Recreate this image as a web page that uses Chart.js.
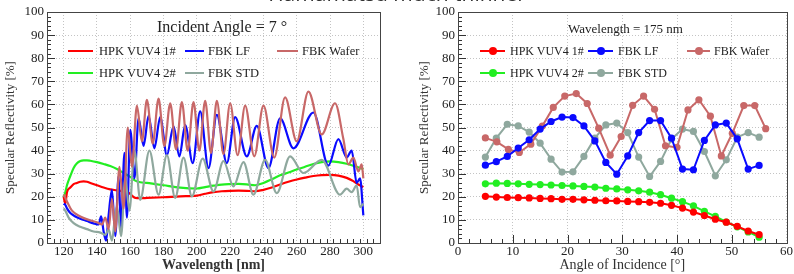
<!DOCTYPE html>
<html>
<head>
<meta charset="utf-8">
<script src="https://cdn.jsdelivr.net/npm/chart.js@4.4.1/dist/chart.umd.min.js"></script>
<style>
  body { margin: 0; width: 794px; height: 274px; background: #fff; overflow: hidden; position: relative; font-family: "Liberation Serif", serif; color: #222; }
  .panel { position: absolute; top: 0; height: 274px; }
  #leftPanel { left: 0; width: 395px; }
  #rightPanel { left: 400px; width: 394px; }
  .heading { position: absolute; top: -21px; left: 0; width: 794px; text-align: center; font-family: "Open Sans", sans-serif; font-size: 21px; color: #333; z-index: 5; white-space: nowrap; }
  .note { position: absolute; white-space: nowrap; }
  .leg { position: absolute; white-space: nowrap; line-height: 14px; }
  .leg i { position: absolute; top: 6px; height: 2px; }
  .leg b { position: absolute; top: 3px; width: 8px; height: 8px; border-radius: 50%; }
</style>
</head>
<body>
<div class="heading">Hamamatsu much thinner</div>
<div class="panel" id="leftPanel"><canvas id="waveChart" width="395" height="274"></canvas></div>
<div class="panel" id="rightPanel"><canvas id="angleChart" width="394" height="274"></canvas></div>
<div id="legends"></div>

<script>
// ---- left panel: reflectivity vs wavelength (incident angle 7 deg) ----
const wlHpk1 = [120,121,122,124,126,128,130,132,134,136,140,144,148,152,156,159,161,163,166,170,180,190,200,205,210,215,220,225,230,235,240,245,250,255,260,265,270,275,280,285,290,294,297,300];
const refHpk1 = [20,17,22,24,25.5,26,26.5,26.7,26.5,26,25,24,23.2,22.8,22.3,21.8,20.5,19.5,19.4,19.5,19.8,20.2,20.5,21.3,22,22.4,22.6,22.7,22.6,22.4,23,24,25.3,26.5,27.5,28.3,29,29.4,29.5,29.2,28.2,26.8,25.3,24.2];

const wlHpk2 = [120,121,122,124,126,128,130,132,134,136,140,144,148,152,156,160,163,166,170,175,180,190,200,205,210,215,220,225,230,235,240,245,250,255,260,265,270,275,280,285,290,295,300];
const refHpk2 = [20,22,25,29,32.5,34.5,35.5,35.8,35.8,35.6,35,34.2,33.3,32,30.3,28.6,27,26.3,26,25.5,25,24,23.6,24.2,24.8,25.3,25.5,25.6,25.4,25,26,27.6,29.3,30.5,31.8,33,34.2,35,35.3,35,34.3,33.2,32];

const wlLf = [120,121,122,124,127,130,134,138,141,142.5,144,145.5,147,149,151,153,154.5,156.5,158,160,162.5,165,168,171,174.5,178,182,186,189.5,193,197.5,202,207,212,218,223,230,236,243,250,258,270,279,285,290,293,296,298,300];
const refLf = [17,16.5,15,13,11.5,10.5,9.5,8.5,8,11.5,5,1,12,23,3,29,6,39,11,49,28,54,42,55,41,54.5,38,50.5,37.5,51,34.6,57,32.4,55.5,34.6,54.5,37.5,50.7,32.4,54,41,56.5,33.5,45,37,40,26,28,12];

const wlStd = [120,121,123,126,130,134,138,142,145,147,149,150.5,152,154.5,157,159.5,162.5,166,171.5,177,182,187,192,197,203.5,210,216,222,228,234,241,248,256,264,275,286,290,293,296,298,300];
const refStd = [15,14,11,8.6,7,6,5,4.5,3.5,6,1,9,16,3,28,14,40,18.7,40,20.9,38,19.5,37,20.2,36.5,22.3,35.5,24.5,35,20.9,36,21.6,37.5,30.3,36,20.9,23.5,22,25,15.5,17];

const wlWafer = [120,122,125,130,135,140,143,145,147,149,151,153.5,156,158.5,161,164,167,170,173.5,177,180.5,184,187.5,191,194.5,198,201.5,205,208.5,212,216,220,224.5,229,234.5,240,246.5,253,260,267,275,283,288,291,294,297,299,300];
const refWafer = [21,18,14,11.5,10,9,8,11,6,19,5,33,15,50,33,59.5,44,62,43,62.5,42,60.5,40.5,61,40,61,40,61.5,39,61.5,38.5,60.5,38,59.5,37.5,59.5,37,63,44,65.5,47,60.5,45,34,37,31,34,28];

const wlTicks = [120,140,160,180,200,220,240,260,280,300];

// ---- right panel: reflectivity vs angle (wavelength 175 nm) ----
const angHpk = [5,7,9,11,13,15,17,19,21,23,25,27,29,31,33,35,37,39,41,43,45,47,49,51,53,55];
const angRef1 = [20.2,19.9,19.7,19.6,19.5,19.3,19.2,18.9,18.9,18.7,18.5,18.3,18.2,18.0,17.9,17.6,17.2,16.3,15.1,13.4,11.9,10.3,9.0,7.2,5.2,3.6];
const angRef2 = [25.6,25.9,25.8,25.6,25.4,25.3,25.1,24.9,24.7,24.5,24.2,23.7,23.4,23.0,22.6,22.0,20.9,19.4,17.9,16.1,13.7,11.5,9.1,7.0,4.8,2.5];

const angFbk = [5,7,9,11,13,15,17,19,21,23,25,27,29,31,33,35,37,39,41,43,45,47,49,51,53,55];
const angLf = [33.7,35.2,37.5,41.1,44.7,49.3,52.6,54.5,54.3,50.7,44.2,34.9,29.8,37.7,47.8,53.0,53.0,45.4,32.0,31.7,44.4,51.1,51.9,45.1,32.0,33.6];
const angStd = [37.2,45.4,51.4,50.7,48.0,43.2,36.3,30.7,30.8,37.5,45.4,51.1,51.9,47.8,37.2,28.8,35.3,45.0,49.3,48.3,39.6,29.1,36.0,45.8,47.8,45.8];

const angWaferX = [5,7.1,9.2,11.2,13.3,15.4,17.4,19.5,21.6,23.6,25.7,27.8,29.8,31.9,33.9,35.9,37.9,40,42,44,46.1,48.1,50.1,52.2,54.2,56.2];
const angWafer = [45.5,43.8,40.5,39.2,42.8,50.6,58.7,63.6,64.7,60.4,49.7,38.0,46.1,59.6,63.6,57.9,42.1,41.4,57.6,62.0,54.9,37.7,47.5,59.5,59.5,49.5];

const angTicks = [0,10,20,30,40,50,60];
const reflTicks = [0,10,20,30,40,50,60,70,80,90,100];

const RED = "#ff0000";
const GREEN = "#22ee22";
const BLUE = "#0a0aff";
const WAFER = "#c86868";
const STD = "#8fa89e";

function pairs(xs, ys) {
  return xs.map((x, i) => ({ x: x, y: ys[i] }));
}

// ROOT-like frame with inward major/minor ticks
const rootFrame = {
  id: "rootFrame",
  afterDraw(chart, args, opts) {
    const { ctx, chartArea: a, scales } = chart;
    ctx.save();
    ctx.strokeStyle = "#333";
    ctx.lineWidth = 1;
    ctx.beginPath();
    for (let v = scales.x.min; v <= scales.x.max + 1e-6; v += opts.xMinor) {
      const px = Math.round(scales.x.getPixelForValue(v)) + 0.5;
      const k = (v - opts.xMajorBase) / opts.xMajor;
      const len = Math.abs(k - Math.round(k)) < 1e-6 ? 8 : 4;
      ctx.moveTo(px, a.bottom);
      ctx.lineTo(px, a.bottom - len);
    }
    for (let v = 0; v <= 100; v += 2) {
      const py = Math.round(scales.y.getPixelForValue(v)) + 0.5;
      const len = v % 10 === 0 ? 8 : 4;
      ctx.moveTo(a.left, py);
      ctx.lineTo(a.left + len, py);
    }
    ctx.stroke();
    ctx.strokeStyle = "#444";
    ctx.strokeRect(Math.round(a.left) + 0.5, Math.round(a.top) + 0.5, Math.round(a.right - a.left), Math.round(a.bottom - a.top));
    ctx.restore();
  }
};

function axisOptions(xMin, xMax, xTicks, xTitle, xBold, leftWidth) {
  return {
    x: {
      type: "linear",
      min: xMin,
      max: xMax,
      afterBuildTicks: (axis) => { axis.ticks = xTicks.map(v => ({ value: v })); },
      afterFit: (axis) => { axis.height = 31; },
      ticks: { color: "#222", font: { family: "Liberation Serif", size: 13 }, padding: 1, maxRotation: 0, autoSkip: false },
      grid: { color: "#c4c4c4", drawTicks: false, lineWidth: 1 },
      border: { display: false, dash: [1, 2] },
      title: { display: true, text: xTitle, color: "#333", font: { family: "Liberation Serif", size: 14, weight: xBold ? "bold" : "normal" }, padding: { top: -3, bottom: 0 } }
    },
    y: {
      min: 0,
      max: 100,
      afterBuildTicks: (axis) => { axis.ticks = reflTicks.map(v => ({ value: v })); },
      afterFit: (axis) => { axis.width = leftWidth; },
      ticks: { color: "#222", font: { family: "Liberation Serif", size: 13 }, padding: 3 },
      grid: { color: "#c4c4c4", drawTicks: false, lineWidth: 1 },
      border: { display: false, dash: [1, 2] },
      title: { display: true, text: "Specular Reflectivity [%]", color: "#333", font: { family: "Liberation Serif", size: 13 }, padding: { top: 0, bottom: 0 } }
    }
  };
}

function waveSet(label, xs, ys, color) {
  return { label: label, data: pairs(xs, ys), borderColor: color, backgroundColor: color, borderWidth: 2.2, pointRadius: 0, cubicInterpolationMode: "monotone", fill: false };
}

function angleSet(label, xs, ys, color) {
  return { label: label, data: pairs(xs, ys), borderColor: color, backgroundColor: color, borderWidth: 2, pointRadius: 3.6, pointBorderWidth: 0, tension: 0, fill: false };
}

new Chart(document.getElementById("waveChart"), {
  type: "line",
  data: {
    datasets: [
      waveSet("FBK Wafer", wlWafer, refWafer, WAFER),
      waveSet("FBK STD", wlStd, refStd, STD),
      waveSet("FBK LF", wlLf, refLf, BLUE),
      waveSet("HPK VUV4 1#", wlHpk1, refHpk1, RED),
      waveSet("HPK VUV4 2#", wlHpk2, refHpk2, GREEN)
    ]
  },
  options: {
    responsive: false,
    animation: false,
    layout: { padding: { left: 3, right: 15, top: 12, bottom: 0 } },
    plugins: { legend: { display: false }, tooltip: { enabled: false }, rootFrame: { xMinor: 4, xMajor: 20, xMajorBase: 120 } },
    scales: axisOptions(110, 310, wlTicks, "Wavelength [nm]", true, 44)
  },
  plugins: [rootFrame]
});

new Chart(document.getElementById("angleChart"), {
  type: "line",
  data: {
    datasets: [
      angleSet("HPK VUV4 1#", angHpk, angRef1, RED),
      angleSet("HPK VUV4 2#", angHpk, angRef2, GREEN),
      angleSet("FBK LF", angFbk, angLf, BLUE),
      angleSet("FBK Wafer", angWaferX, angWafer, WAFER),
      angleSet("FBK STD", angFbk, angStd, STD)
    ]
  },
  options: {
    responsive: false,
    animation: false,
    layout: { padding: { left: 17, right: 4, top: 12, bottom: 0 } },
    plugins: { legend: { display: false }, tooltip: { enabled: false }, rootFrame: { xMinor: 2, xMajor: 10, xMajorBase: 0 } },
    scales: axisOptions(0, 60, angTicks, "Angle of Incidence [°]", false, 41)
  },
  plugins: [rootFrame]
});

// in-frame notes and legends (x0-x1: sample line, tx: text start)
const notes = [
  { text: "Incident Angle = 7 °", x: 157, y: 18, size: 16 },
  { text: "Wavelength = 175 nm", x: 568, y: 21, size: 13 }
];
const legendItems = [
  { label: "HPK VUV4 1#", color: RED, x0: 68, x1: 93, tx: 99, y: 44, size: 12.5, dot: false },
  { label: "FBK LF", color: BLUE, x0: 185, x1: 204, tx: 208, y: 44, size: 12.5, dot: false },
  { label: "FBK Wafer", color: WAFER, x0: 277, x1: 298, tx: 302, y: 44, size: 12.5, dot: false },
  { label: "HPK VUV4 2#", color: GREEN, x0: 68, x1: 93, tx: 99, y: 66, size: 12.5, dot: false },
  { label: "FBK STD", color: STD, x0: 185, x1: 204, tx: 208, y: 66, size: 12.5, dot: false },
  { label: "HPK VUV4 1#", color: RED, x0: 480, x1: 505, tx: 510, y: 44, size: 12, dot: true },
  { label: "FBK LF", color: BLUE, x0: 588, x1: 613, tx: 618, y: 44, size: 12, dot: true },
  { label: "FBK Wafer", color: WAFER, x0: 687, x1: 710, tx: 714, y: 44, size: 12, dot: true },
  { label: "HPK VUV4 2#", color: GREEN, x0: 480, x1: 505, tx: 510, y: 66, size: 12, dot: true },
  { label: "FBK STD", color: STD, x0: 588, x1: 613, tx: 618, y: 66, size: 12, dot: true }
];
const holder = document.getElementById("legends");
notes.forEach(n => {
  const d = document.createElement("div");
  d.className = "note";
  d.style.left = n.x + "px";
  d.style.top = n.y + "px";
  d.style.fontSize = n.size + "px";
  d.textContent = n.text;
  holder.appendChild(d);
});
legendItems.forEach(it => {
  const d = document.createElement("div");
  d.className = "leg";
  d.style.left = it.x0 + "px";
  d.style.top = it.y + "px";
  d.style.fontSize = it.size + "px";
  d.style.paddingLeft = (it.tx - it.x0) + "px";
  const w = it.x1 - it.x0;
  d.innerHTML = `<i style="left:0;width:${w}px;background:${it.color}"></i>` +
    (it.dot ? `<b style="left:${w / 2 - 4}px;background:${it.color}"></b>` : "") +
    `<span></span>`;
  d.querySelector("span").textContent = it.label;
  holder.appendChild(d);
});
</script>
</body>
</html>
